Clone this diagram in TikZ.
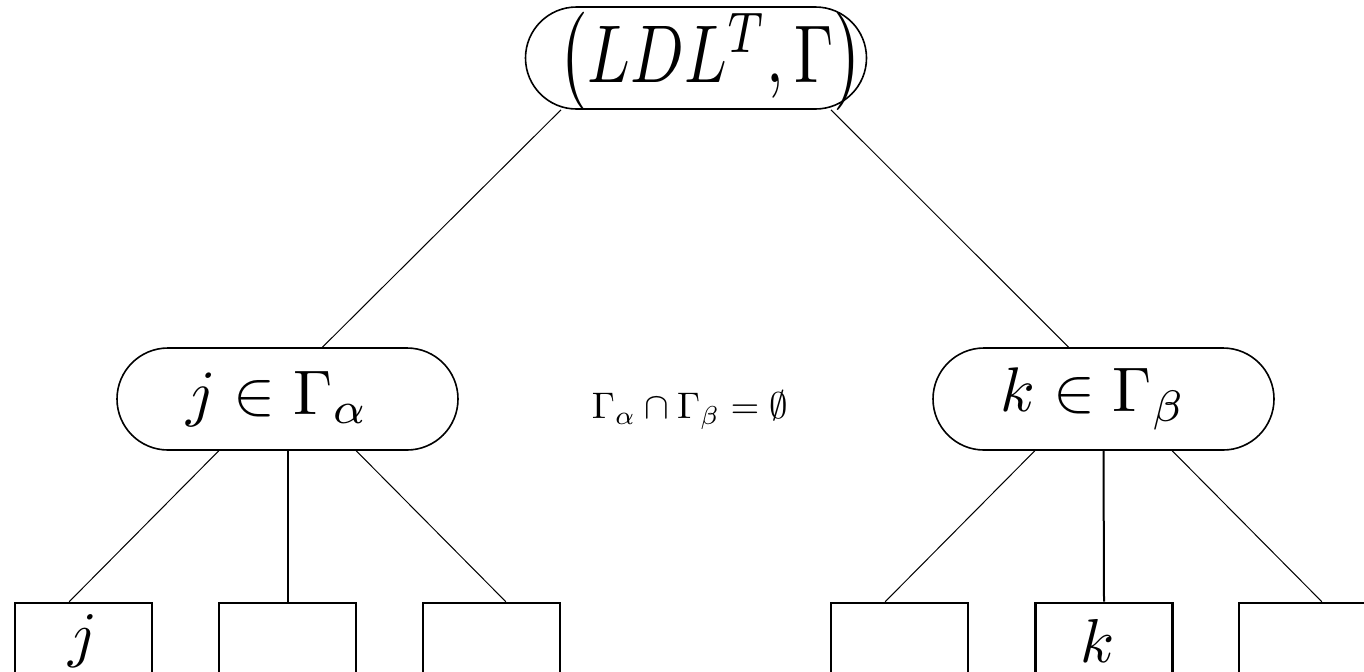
\documentclass[tikz,border=0pt]{standalone}
\usepackage{amsmath}
\usepackage{amssymb}
\usepackage{graphicx}
\usepackage{tikz}
\usetikzlibrary{positioning, calc}

\begin{document}
\begin{tikzpicture}[x=0.5pt, y=-0.5pt,
    pill/.style={draw, line width=0.8pt, rounded corners=25.5pt, minimum width=170.5pt, minimum height=51pt, inner sep=0pt},
    leaf/.style={draw, line width=1.3pt, minimum width=68.5pt, minimum height=38pt, inner sep=0pt},
    link/.style={line width=0.5pt}]
    \clip[use as bounding box] (0,0) rectangle (1364,671);

    % Root
    \node[pill, text height=37.5pt, text depth=13.5pt] (root) at (696,58)
        {\hspace*{15pt}\scalebox{3.15}[4.1]{$\big(LDL^T,\Gamma\big)$}};

    % Subsets
    \node[pill] (alpha) at (287.5,399) {\scalebox{3.15}{$j\in\Gamma_\alpha$}\hspace*{10pt}};
    \node[pill] (beta) at (1103.5,399) {\scalebox{3.15}{$k\in\Gamma_\beta$}\hspace*{10pt}};
    \node (disj) at (690,410) {\scalebox{1.85}{$\Gamma_\alpha\cap\Gamma_\beta=\emptyset$}};

    % Leaves
    \node[leaf] (a1) at (83.5,641) {\scalebox{3.1}{$j$}};
    \node[leaf] (a2) at (287.5,641) {};
    \node[leaf] (a3) at (491.5,641) {};
    \node[leaf] (b1) at (899.5,641) {};
    \node[leaf] (b2) at (1104,641) {\scalebox{3.1}{$k$}\hspace*{6pt}};
    \node[leaf] (b3) at (1307.5,641) {};

    % Links
    \draw[link] (root.201) -- (alpha.56);
    \draw[link] (root.339) -- (beta.124);
    \foreach \p/\l/\m/\r in {alpha/a1/a2/a3, beta/b1/b2/b3} {
        \draw[link] (\p.217) -- (\l.110);
        \draw[line width=1pt] (\p.south) -- (\m.north);
        \draw[link] (\p.323) -- (\r.70);
    }
\end{tikzpicture}
\end{document}
